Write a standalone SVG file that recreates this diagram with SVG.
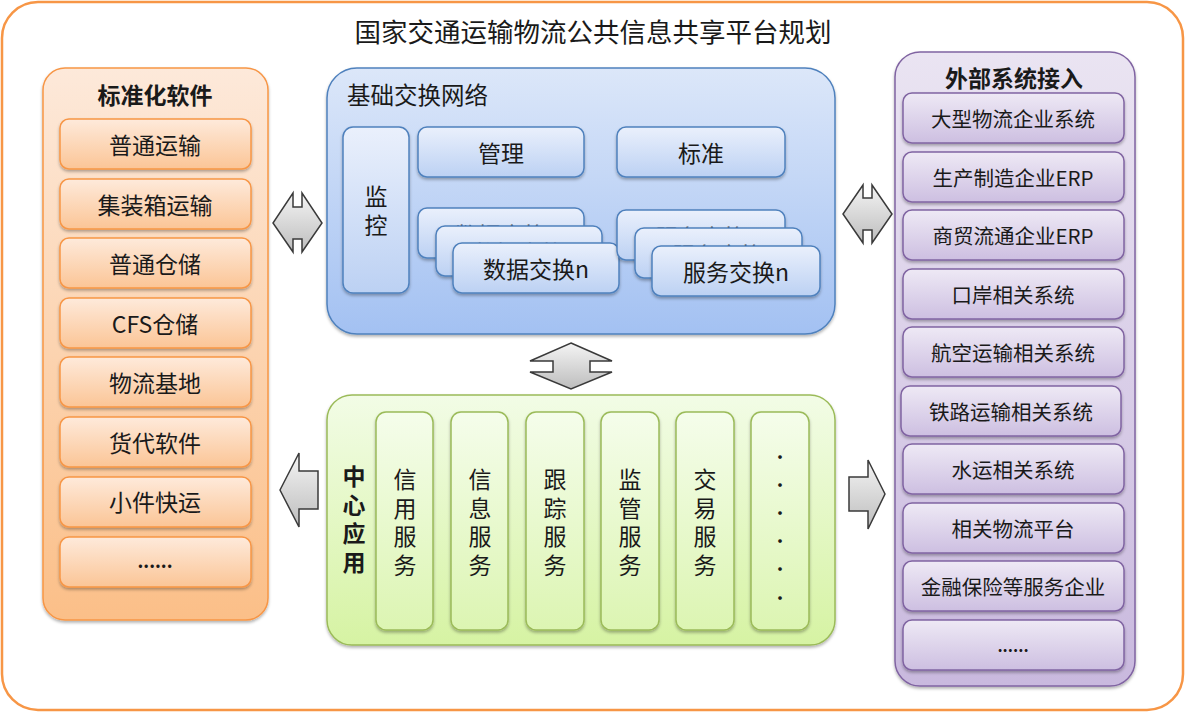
<svg xmlns="http://www.w3.org/2000/svg" width="1186" height="713" viewBox="0 0 1186 713">
<defs>
<linearGradient id="gOrP" x1="0" y1="0" x2="0" y2="1"><stop offset="0" stop-color="#FDE9DA"/><stop offset="1" stop-color="#FBBF88"/></linearGradient>
<linearGradient id="gOrI" x1="0" y1="0" x2="0" y2="1"><stop offset="0" stop-color="#FEEADB"/><stop offset="1" stop-color="#FBC596"/></linearGradient>
<linearGradient id="gBlP" x1="0" y1="0" x2="0" y2="1"><stop offset="0" stop-color="#DCE7F9"/><stop offset="1" stop-color="#A3C1F2"/></linearGradient>
<linearGradient id="gBlI" x1="0" y1="0" x2="0" y2="1"><stop offset="0" stop-color="#EAF0FC"/><stop offset="1" stop-color="#BCD1F3"/></linearGradient>
<linearGradient id="gGrP" x1="0" y1="0" x2="0" y2="1"><stop offset="0" stop-color="#F2FCE6"/><stop offset="1" stop-color="#D6F3A3"/></linearGradient>
<linearGradient id="gGrI" x1="0" y1="0" x2="0" y2="1"><stop offset="0" stop-color="#F5FDEB"/><stop offset="1" stop-color="#DCF5B2"/></linearGradient>
<linearGradient id="gPuP" x1="0" y1="0" x2="0" y2="1"><stop offset="0" stop-color="#EAE4F2"/><stop offset="1" stop-color="#C9B9DE"/></linearGradient>
<linearGradient id="gPuI" x1="0" y1="0" x2="0" y2="1"><stop offset="0" stop-color="#EEE9F5"/><stop offset="1" stop-color="#CDBFE1"/></linearGradient>
<linearGradient id="gAr" x1="0" y1="0" x2="0" y2="1"><stop offset="0" stop-color="#F4F4F4"/><stop offset="1" stop-color="#BDBDBD"/></linearGradient>
<filter id="sh" x="-10%" y="-10%" width="120%" height="125%"><feDropShadow dx="0" dy="2" stdDeviation="1.5" flood-color="#000" flood-opacity="0.3"/></filter>
</defs>
<style>
text{font-family:"Noto Sans CJK SC","Liberation Sans",sans-serif;fill:#1a1a1a;}
.c{text-anchor:middle;dominant-baseline:central;}
.v{text-anchor:middle;font-size:23px;}
.t20{font-size:20.5px;}
.t23{font-size:23px;}
.hd{font-size:23px;font-weight:bold;}
.orP{fill:url(#gOrP);stroke:#F79646;stroke-width:1.5;}
.orI{fill:url(#gOrI);stroke:#F79646;stroke-width:1.5;}
.blP{fill:url(#gBlP);stroke:#4F81BD;stroke-width:1.5;}
.blI{fill:url(#gBlI);stroke:#4F81BD;stroke-width:1.5;}
.grP{fill:url(#gGrP);stroke:#9BBB59;stroke-width:1.5;}
.grI{fill:url(#gGrI);stroke:#9BBB59;stroke-width:1.5;}
.puP{fill:url(#gPuP);stroke:#8064A2;stroke-width:1.5;}
.puI{fill:url(#gPuI);stroke:#8064A2;stroke-width:1.5;}
.ar{fill:url(#gAr);stroke:#3a3a3a;stroke-width:1.5;stroke-linejoin:miter;}
</style>

<g id="frame">
<rect x="2" y="2" width="1181" height="708" rx="36" fill="#FFFFFF" stroke="#F79646" stroke-width="2.5"/>
<text class="c" x="593" y="30" style="font-size:26.5px">国家交通运输物流公共信息共享平台规划</text>
</g>

<g id="standard-software">
<rect class="orP" x="43" y="68" width="225" height="552" rx="22" filter="url(#sh)"/>
<text class="c hd" x="155" y="94">标准化软件</text>
<g filter="url(#sh)">
<rect class="orI" x="60" y="119" width="191" height="50" rx="9"/>
<rect class="orI" x="60" y="179" width="191" height="50" rx="9"/>
<rect class="orI" x="60" y="238" width="191" height="50" rx="9"/>
<rect class="orI" x="60" y="298" width="191" height="50" rx="9"/>
<rect class="orI" x="60" y="357" width="191" height="50" rx="9"/>
<rect class="orI" x="60" y="417" width="191" height="50" rx="9"/>
<rect class="orI" x="60" y="477" width="191" height="50" rx="9"/>
<rect class="orI" x="60" y="537" width="191" height="50" rx="9"/>
</g>
<text class="c t23" x="155" y="144">普通运输</text>
<text class="c t23" x="155" y="204">集装箱运输</text>
<text class="c t23" x="155" y="263">普通仓储</text>
<text class="c t23" x="155" y="323">CFS仓储</text>
<text class="c t23" x="155" y="382">物流基地</text>
<text class="c t23" x="155" y="442">货代软件</text>
<text class="c t23" x="155" y="501">小件快运</text>
<text x="155" y="568" text-anchor="middle" style="font-size:18px;font-weight:bold">......</text>
</g>

<g id="exchange-network">
<rect class="blP" x="327" y="68" width="508" height="266" rx="30" filter="url(#sh)"/>
<text x="347" y="104" style="font-size:23.5px">基础交换网络</text>
<g filter="url(#sh)">
<rect class="blI" x="343" y="127" width="66" height="166" rx="10"/>
<rect class="blI" x="418" y="127" width="166" height="50" rx="9"/>
<rect class="blI" x="617" y="127" width="168" height="50" rx="9"/>
</g>
<text class="v" x="376" y="205">监<tspan x="376" dy="29">控</tspan></text>
<text class="c t23" x="501" y="152">管理</text>
<text class="c t23" x="701" y="152">标准</text>
<g id="data-exchange">
<rect class="blI" x="418" y="208" width="166" height="50" rx="9" filter="url(#sh)"/>
<text class="c t23" x="501" y="234">数据交换</text>
<rect class="blI" x="436" y="226" width="166" height="50" rx="9" filter="url(#sh)"/>
<text class="c t23" x="519" y="252">数据交换</text>
<rect class="blI" x="453" y="243" width="166" height="50" rx="9" filter="url(#sh)"/>
<text class="c t23" x="536" y="268">数据交换n</text>
</g>
<g id="service-exchange">
<rect class="blI" x="617" y="210" width="168" height="50" rx="9" filter="url(#sh)"/>
<text class="c t23" x="701" y="236">服务交换</text>
<rect class="blI" x="635" y="228" width="167" height="50" rx="9" filter="url(#sh)"/>
<text class="c t23" x="718" y="254">服务交换</text>
<rect class="blI" x="652" y="246" width="168" height="50" rx="9" filter="url(#sh)"/>
<text class="c t23" x="736" y="271">服务交换n</text>
</g>
</g>

<g id="center-apps">
<rect class="grP" x="327" y="395" width="508" height="250" rx="25" filter="url(#sh)"/>
<text class="v" x="354" y="485" style="font-weight:bold">中<tspan x="354" dy="28.5">心</tspan><tspan x="354" dy="28.5">应</tspan><tspan x="354" dy="28.5">用</tspan></text>
<g filter="url(#sh)">
<rect class="grI" x="376" y="412" width="57" height="218" rx="10"/>
<rect class="grI" x="451" y="412" width="57" height="218" rx="10"/>
<rect class="grI" x="526" y="412" width="58" height="218" rx="10"/>
<rect class="grI" x="601" y="412" width="58" height="218" rx="10"/>
<rect class="grI" x="676" y="412" width="58" height="218" rx="10"/>
<rect class="grI" x="751" y="412" width="58" height="218" rx="10"/>
</g>
<text class="v" x="405" y="488">信<tspan x="405" dy="28.5">用</tspan><tspan x="405" dy="28.5">服</tspan><tspan x="405" dy="28.5">务</tspan></text>
<text class="v" x="480" y="488">信<tspan x="480" dy="28.5">息</tspan><tspan x="480" dy="28.5">服</tspan><tspan x="480" dy="28.5">务</tspan></text>
<text class="v" x="555" y="488">跟<tspan x="555" dy="28.5">踪</tspan><tspan x="555" dy="28.5">服</tspan><tspan x="555" dy="28.5">务</tspan></text>
<text class="v" x="630" y="488">监<tspan x="630" dy="28.5">管</tspan><tspan x="630" dy="28.5">服</tspan><tspan x="630" dy="28.5">务</tspan></text>
<text class="v" x="705" y="488">交<tspan x="705" dy="28.5">易</tspan><tspan x="705" dy="28.5">服</tspan><tspan x="705" dy="28.5">务</tspan></text>
<text x="780" y="459" text-anchor="middle" style="font-size:20px;font-weight:bold">.<tspan x="780" dy="28">.</tspan><tspan x="780" dy="28">.</tspan><tspan x="780" dy="28">.</tspan><tspan x="780" dy="28">.</tspan><tspan x="780" dy="29">.</tspan></text>
</g>

<g id="external-systems">
<rect class="puP" x="895" y="52" width="240" height="634" rx="25" filter="url(#sh)"/>
<text class="c hd" x="1014" y="77">外部系统接入</text>
<g filter="url(#sh)">
<rect class="puI" x="903" y="93" width="221" height="50" rx="9"/>
<rect class="puI" x="903" y="152" width="221" height="50" rx="9"/>
<rect class="puI" x="903" y="210" width="221" height="50" rx="9"/>
<rect class="puI" x="903" y="269" width="221" height="50" rx="9"/>
<rect class="puI" x="903" y="327" width="221" height="50" rx="9"/>
<rect class="puI" x="901" y="386" width="220" height="50" rx="9"/>
<rect class="puI" x="903" y="444" width="221" height="50" rx="9"/>
<rect class="puI" x="903" y="503" width="221" height="50" rx="9"/>
<rect class="puI" x="903" y="561" width="221" height="50" rx="9"/>
<rect class="puI" x="903" y="620" width="221" height="50" rx="9"/>
</g>
<text class="c t20" x="1013" y="118">大型物流企业系统</text>
<text class="c t20" x="1013" y="177">生产制造企业ERP</text>
<text class="c t20" x="1013" y="235">商贸流通企业ERP</text>
<text class="c t20" x="1013" y="294">口岸相关系统</text>
<text class="c t20" x="1013" y="352">航空运输相关系统</text>
<text class="c t20" x="1011" y="411">铁路运输相关系统</text>
<text class="c t20" x="1013" y="469">水运相关系统</text>
<text class="c t20" x="1013" y="528">相关物流平台</text>
<text class="c t20" x="1013" y="586">金融保险等服务企业</text>
<text x="1013" y="652" text-anchor="middle" style="font-size:16px;font-weight:bold">......</text>
</g>

<g id="connectors">
<path class="ar" d="M293,193 L293,207 L302,207 L302,193 L322,223 L302,252 L302,239 L293,239 L293,252 L273,223 Z"/>
<path class="ar" d="M863,185 L863,198 L872,198 L872,185 L892,214 L872,243 L872,230 L863,230 L863,243 L843,214 Z"/>
<path class="ar" d="M571,343 L612,361 L590,361 L590,372 L612,372 L571,389 L530,372 L553,372 L553,361 L530,361 Z"/>
<path class="ar" d="M280,490 L299,453 L299,471 L318,471 L318,509 L299,509 L299,527 Z"/>
<path class="ar" d="M885,494 L868,460 L868,477 L849,477 L849,511 L868,511 L868,529 Z"/>
</g>
</svg>
